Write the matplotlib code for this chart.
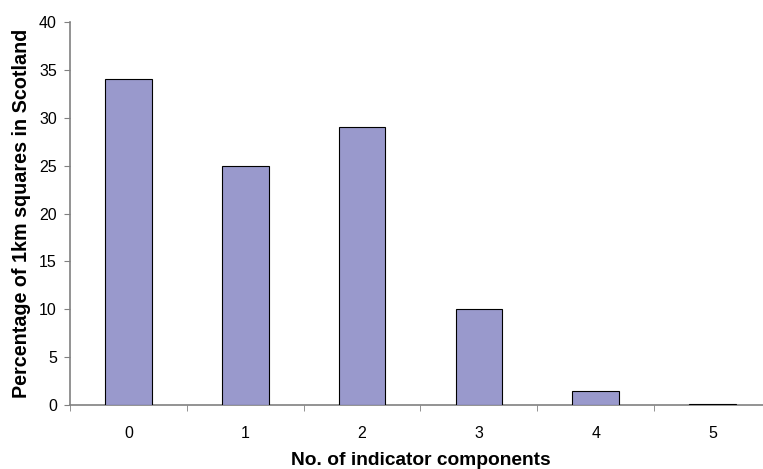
import matplotlib
matplotlib.use("Agg")
import matplotlib.pyplot as plt

categories = ["0", "1", "2", "3", "4", "5"]
values = [34, 25, 29, 10, 1.5, 0.1]
yticks = [0, 5, 10, 15, 20, 25, 30, 35, 40]

plt.rcParams['font.family'] = ['Liberation Sans', 'DejaVu Sans']

fig = plt.figure(figsize=(7.63, 4.69), dpi=100)
ax = fig.add_axes([0.0917, 0.1365, 1.0105 - 0.0917, 0.953 - 0.1365])
x = list(range(len(categories)))
ax.bar(x, values, width=0.4, color="#9999CC", edgecolor="black", linewidth=0.8, zorder=3)
ax.set_xlim(-0.5, len(categories) - 0.5)
ax.set_ylim(0, 40)
ax.set_yticks(yticks)
ax.set_xticks(x)
ax.set_xticklabels(categories, fontsize=11.5)
ax.tick_params(axis='x', length=0, pad=15)
ax.set_xticks([i + 0.5 for i in range(-1, len(categories))], minor=True)
ax.tick_params(axis='x', which='minor', length=4.5, direction='out', color='#808080')
ax.tick_params(axis='y', labelsize=11.5, length=4.5, color='#808080', pad=5)
for s in ['top', 'right']:
    ax.spines[s].set_visible(False)
for s in ['left', 'bottom']:
    ax.spines[s].set_color('#808080')
    ax.spines[s].set_linewidth(1.2)
ax.set_xlabel("No. of indicator components", fontsize=13.8, fontweight='bold', labelpad=8)
ax.set_ylabel("Percentage of 1km squares in Scotland", fontsize=14.2, fontweight='bold', labelpad=6)
fig.savefig("out.png", dpi=100)
